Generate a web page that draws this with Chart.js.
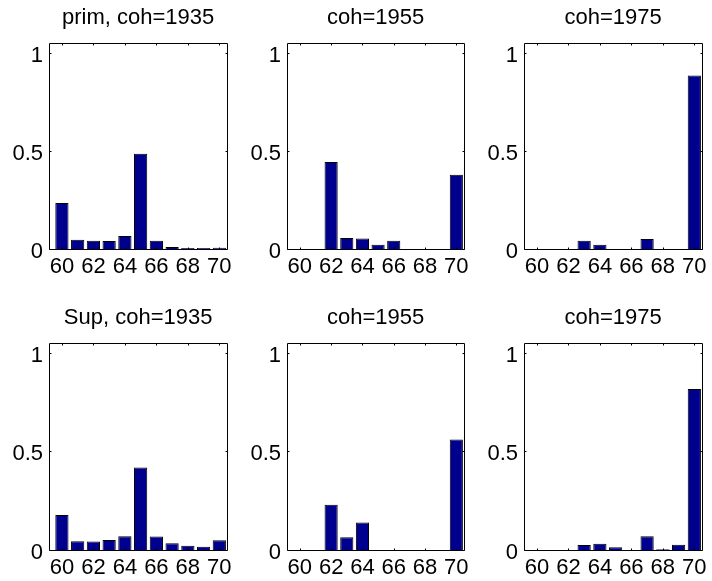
<!DOCTYPE html>
<html><head><meta charset="utf-8">
<script src="https://cdn.jsdelivr.net/npm/chart.js@4/dist/chart.umd.min.js"></script>
<style>
html,body{margin:0;padding:0;background:#fff;}
#wrap{position:relative;width:712px;height:581px;overflow:hidden;background:#fff;}
#wrap canvas{position:absolute;}
</style></head><body><div id="wrap"></div>
<script>
// ---- data ----
const ages = [60, 61, 62, 63, 64, 65, 66, 67, 68, 69, 70];
const xTicks = [60, 62, 64, 66, 68, 70];
const yTicks = [0, 0.5, 1];
const yTickLabels = ["0", "0.5", "1"];
const panelTitles = ["prim, coh=1935", "coh=1955", "coh=1975", "Sup, coh=1935", "coh=1955", "coh=1975"];
const primCoh1935 = [0.235, 0.047, 0.042, 0.041, 0.066, 0.485, 0.042, 0.010, 0.005, 0.005, 0.006];
const primCoh1955 = [0, 0, 0.444, 0.056, 0.053, 0.022, 0.042, 0, 0, 0, 0.378];
const primCoh1975 = [0, 0, 0, 0.042, 0.022, 0, 0, 0.051, 0, 0, 0.884];
const supCoh1935 = [0.178, 0.044, 0.043, 0.051, 0.070, 0.419, 0.068, 0.034, 0.022, 0.017, 0.049];
const supCoh1955 = [0, 0, 0.229, 0.065, 0.139, 0, 0, 0, 0, 0, 0.561];
const supCoh1975 = [0, 0, 0, 0.025, 0.032, 0.014, 0, 0.070, 0.004, 0.027, 0.817];
const panelSeries = [primCoh1935, primCoh1955, primCoh1975, supCoh1935, supCoh1955, supCoh1975];

// ---- layout ----
const colLeft = [0, 238, 475], colWidth = [237, 236, 237], colPadRight = [7, 7, 8];
const rowTop = [0, 300], rowHeight = [290, 281], rowAxisH = [41, 31];
const FONT = {family: "'Liberation Sans', Arial, Helvetica, sans-serif", size: 22, weight: 'normal'};

const boxPlugin = {
  id: 'matBox',
  afterDatasetsDraw(chart) {
    const {ctx, chartArea: a, scales: {x, y}} = chart;
    const L = Math.round(a.left) + 0.5, R = Math.round(a.right) + 0.5;
    const T = Math.round(a.top) + 0.5, B = Math.round(a.bottom) + 0.5;
    const tl = 2;
    ctx.save();
    ctx.strokeStyle = '#000';
    ctx.lineWidth = 1;
    ctx.beginPath();
    ctx.rect(L, T, R - L, B - T);
    xTicks.forEach(v => {
      const px = Math.round(x.getPixelForValue(v)) + 0.5;
      ctx.moveTo(px, B); ctx.lineTo(px, B - tl);
      ctx.moveTo(px, T); ctx.lineTo(px, T + tl);
    });
    yTicks.forEach(v => {
      const py = Math.round(y.getPixelForValue(v)) + 0.5;
      ctx.moveTo(L, py); ctx.lineTo(L + tl, py);
      ctx.moveTo(R, py); ctx.lineTo(R - tl, py);
    });
    ctx.stroke();
    ctx.restore();
  }
};

const wrap = document.getElementById('wrap');
panelSeries.forEach((vals, p) => {
  const r = Math.floor(p / 3), c = p % 3;
  const cv = document.createElement('canvas');
  cv.width = colWidth[c]; cv.height = rowHeight[r];
  cv.style.left = colLeft[c] + 'px'; cv.style.top = rowTop[r] + 'px';
  cv.style.width = colWidth[c] + 'px'; cv.style.height = rowHeight[r] + 'px';
  wrap.appendChild(cv);
  new Chart(cv, {
    type: 'bar',
    data: {
      datasets: [{
        data: ages.map((a, i) => ({x: a, y: vals[i]})),
        backgroundColor: '#00008f',
        borderColor: '#000',
        borderWidth: 1,
        barPercentage: 0.84,
        categoryPercentage: 1
      }]
    },
    options: {
      responsive: false, animation: false, devicePixelRatio: 1,
      layout: {padding: {left: 0, right: colPadRight[c], top: 0, bottom: 0}},
      plugins: {
        legend: {display: false}, tooltip: {enabled: false},
        title: {display: true, text: panelTitles[p], fullSize: false, color: '#000', font: FONT, padding: {top: 5, bottom: 11.6}}
      },
      scales: {
        x: {
          type: 'linear', min: 59.18, max: 70.5, offset: false,
          grid: {display: false, drawTicks: false}, border: {display: false},
          afterBuildTicks(s) { s.ticks = xTicks.map(v => ({value: v})); },
          afterFit(s) { s.height = rowAxisH[r]; },
          ticks: {autoSkip: false, maxRotation: 0, minRotation: 0, padding: 5, color: '#000', font: FONT,
            callback: (v) => String(v)}
        },
        y: {
          min: 0, max: 1.05,
          grid: {display: false, drawTicks: false}, border: {display: false},
          afterBuildTicks(s) { s.ticks = yTicks.map(v => ({value: v})); },
          afterFit(s) { s.width = 49; },
          ticks: {padding: 6, labelOffset: 3, color: '#000', font: FONT,
            callback: (v, i) => yTickLabels[i]}
        }
      }
    },
    plugins: [boxPlugin]
  });
});
</script></body></html>
